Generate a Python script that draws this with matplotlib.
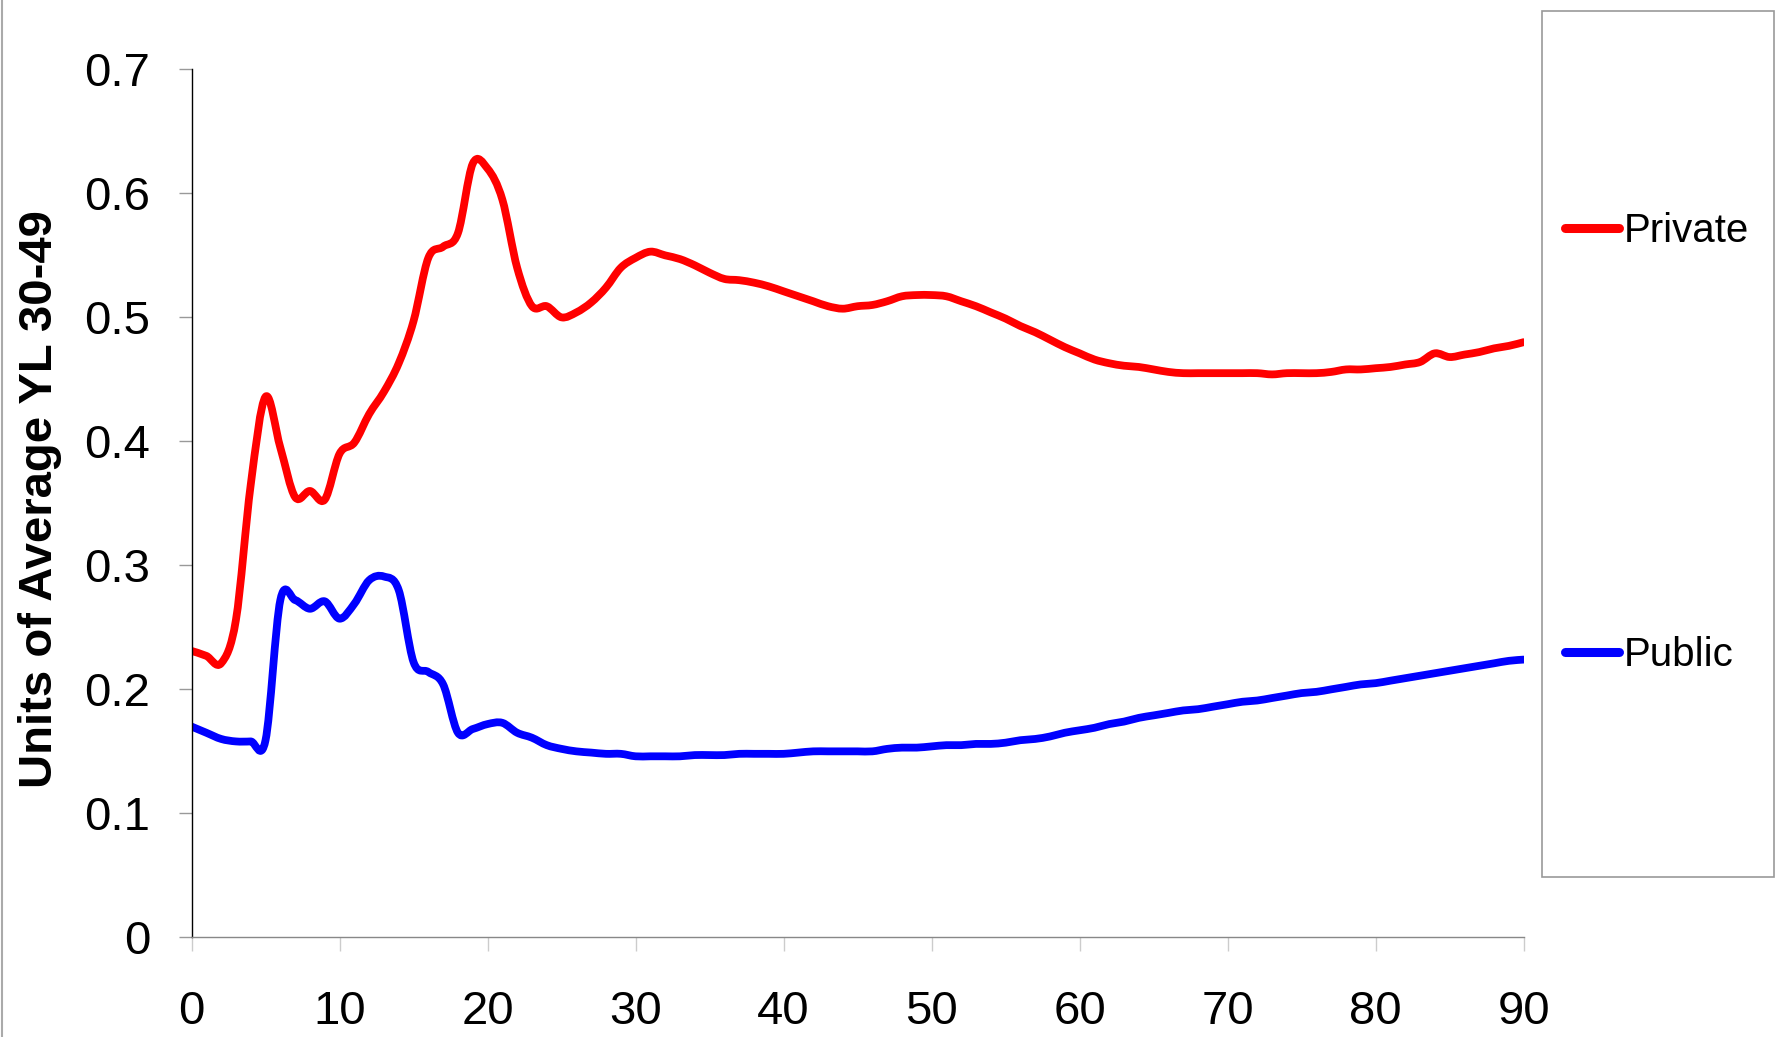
import matplotlib.pyplot as plt
from matplotlib.patches import Rectangle, PathPatch
from matplotlib.lines import Line2D
from matplotlib.path import Path

plt.rcParams["font.family"] = ["Liberation Sans", "DejaVu Sans"]

# Вік (роки)
ages = list(range(0, 91))

# Private
private = [
    0.231, 0.227, 0.221, 0.256, 0.365, 0.436, 0.395, 0.355, 0.360, 0.353,
    0.390, 0.399, 0.422, 0.440, 0.463, 0.497, 0.548, 0.557, 0.568, 0.624,
    0.620, 0.595, 0.540, 0.509, 0.509, 0.500, 0.504, 0.512, 0.524, 0.540,
    0.548, 0.553, 0.550, 0.547, 0.542, 0.536, 0.531, 0.530, 0.528, 0.525,
    0.521, 0.517, 0.513, 0.509, 0.507, 0.509, 0.510, 0.513, 0.517, 0.518,
    0.518, 0.517, 0.513, 0.509, 0.504, 0.499, 0.493, 0.488, 0.482, 0.476,
    0.471, 0.466, 0.463, 0.461, 0.460, 0.458, 0.456, 0.455, 0.455, 0.455,
    0.455, 0.455, 0.455, 0.454, 0.455, 0.455, 0.455, 0.456, 0.458, 0.458,
    0.459, 0.460, 0.462, 0.464, 0.471, 0.468, 0.470, 0.472, 0.475, 0.477,
    0.480,
]

# Public
public = [
    0.170, 0.165, 0.160, 0.158, 0.158, 0.159, 0.272, 0.272, 0.265, 0.271,
    0.257, 0.269, 0.288, 0.291, 0.280, 0.222, 0.214, 0.204, 0.165, 0.168,
    0.172, 0.173, 0.165, 0.161, 0.155, 0.152, 0.150, 0.149, 0.148, 0.148,
    0.146, 0.146, 0.146, 0.146, 0.147, 0.147, 0.147, 0.148, 0.148, 0.148,
    0.148, 0.149, 0.150, 0.150, 0.150, 0.150, 0.150, 0.152, 0.153, 0.153,
    0.154, 0.155, 0.155, 0.156, 0.156, 0.157, 0.159, 0.160, 0.162, 0.165,
    0.167, 0.169, 0.172, 0.174, 0.177, 0.179, 0.181, 0.183, 0.184, 0.186,
    0.188, 0.190, 0.191, 0.193, 0.195, 0.197, 0.198, 0.200, 0.202, 0.204,
    0.205, 0.207, 0.209, 0.211, 0.213, 0.215, 0.217, 0.219, 0.221, 0.223,
    0.224,
]

x_ticks = [0, 10, 20, 30, 40, 50, 60, 70, 80, 90]
y_ticks = [0, 0.1, 0.2, 0.3, 0.4, 0.5, 0.6, 0.7]
y_tick_labels = ["0", "0.1", "0.2", "0.3", "0.4", "0.5", "0.6", "0.7"]


def smooth_path(xs, ys):
    # згладжена лінія як в Excel (кубічні криві Безьє через точки)
    verts = [(xs[0], ys[0])]
    codes = [Path.MOVETO]
    n = len(xs)
    for i in range(n - 1):
        x0, y0 = xs[max(i - 1, 0)], ys[max(i - 1, 0)]
        x1, y1 = xs[i], ys[i]
        x2, y2 = xs[i + 1], ys[i + 1]
        x3, y3 = xs[min(i + 2, n - 1)], ys[min(i + 2, n - 1)]
        verts.append((x1 + (x2 - x0) / 6, y1 + (y2 - y0) / 6))
        verts.append((x2 - (x3 - x1) / 6, y2 - (y3 - y1) / 6))
        verts.append((x2, y2))
        codes += [Path.CURVE4] * 3
    return Path(verts, codes)


fig = plt.figure(figsize=(17.75, 10.37), dpi=100)
ax = fig.add_axes([0.1079, 0.0961, 0.7505, 0.837])

for values, color in [(private, "#ff0000"), (public, "#0000ff")]:
    ax.add_patch(PathPatch(smooth_path(ages, values), fill=False,
                           edgecolor=color, linewidth=5.6,
                           capstyle="round", joinstyle="round"))

ax.set_xlim(0, 90)
ax.set_ylim(0, 0.7)
ax.set_xticks(x_ticks)
ax.set_yticks(y_ticks)
ax.set_yticklabels(y_tick_labels)

ax.tick_params(axis="y", direction="out", length=9.6, width=1,
               color="#999999", labelsize=34, pad=20)
ax.tick_params(axis="x", direction="out", length=10, width=1,
               color="#cccccc", labelsize=34, pad=28)

ax.spines["top"].set_visible(False)
ax.spines["right"].set_visible(False)
ax.spines["left"].set_color("black")
ax.spines["left"].set_linewidth(1)
ax.spines["bottom"].set_color("#888888")
ax.spines["bottom"].set_linewidth(1)

ax.set_ylabel("Units of Average YL 30-49", fontsize=34, fontweight="bold")
ax.yaxis.set_label_coords(-0.097, 0.505)

# Рамка легенди
fig.add_artist(Rectangle((0.8686, 0.1543), 0.1307, 0.8349,
                         transform=fig.transFigure, fill=False,
                         edgecolor="#999999", linewidth=1.2))

handles = [
    Line2D([], [], color="#ff0000", linewidth=6.5, solid_capstyle="round"),
    Line2D([], [], color="#0000ff", linewidth=6.5, solid_capstyle="round"),
]

fig.legend(
    handles, ["Private", "Public"],
    loc="center left",
    bbox_to_anchor=(0.8817, 1 - 443 / 1037),
    frameon=False,
    fontsize=29,
    handlelength=1.35,
    handletextpad=0.12,
    labelspacing=9.6,
    borderpad=0,
    borderaxespad=0,
)

# ліва межа діаграми
fig.add_artist(Line2D([0.0013, 0.0013], [0, 1], transform=fig.transFigure,
                      color="#aaaaaa", linewidth=1.5))

plt.savefig("out.png", dpi=100)
plt.close()
